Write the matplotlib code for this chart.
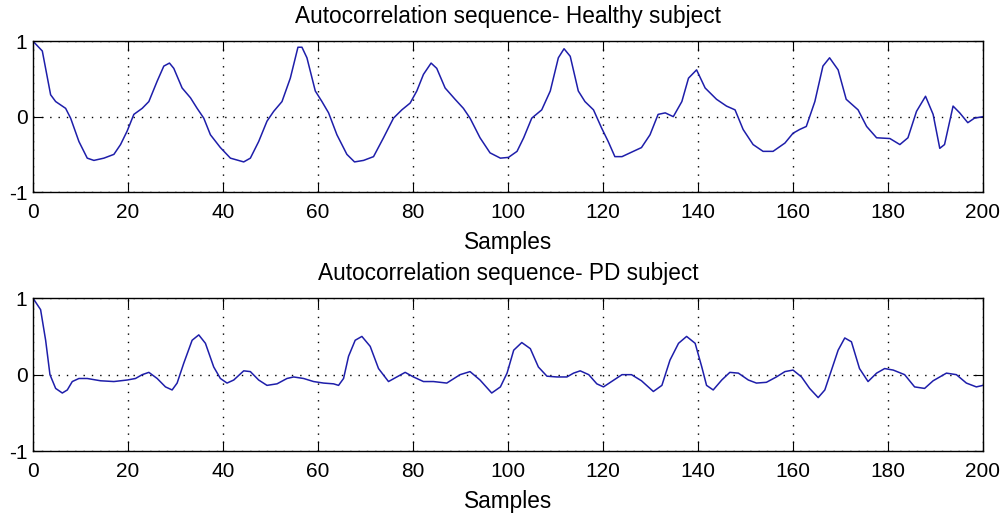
import matplotlib
matplotlib.use('Agg')
import matplotlib.pyplot as plt

# values (lag in samples, autocorrelation)
healthy_lag = [0, 1.96, 3.71, 4.77, 6.87, 7.92, 9.67, 11.42, 12.82, 14.93, 17.03, 18.43,
               19.83, 21.23, 22.99, 24.39, 26.14, 27.54, 28.73, 29.64, 31.39, 33.15, 34.55,
               35.95, 37.35, 39.45, 41.56, 44.36, 45.76, 47.51, 49.26, 50.67, 52.42, 54.17,
               55.78, 56.62, 57.67, 59.43, 60.83, 62.23, 63.98, 66.08, 67.69, 69.59, 71.69,
               73.79, 75.89, 77.65, 79.40, 80.80, 82.20, 83.81, 85.00, 86.76, 88.86, 90.61,
               92.01, 94.11, 96.22, 98.4, 100.1, 101.9, 103.3, 105.0, 107.1, 108.9, 110.6,
               111.8, 113.1, 114.8, 116.2, 118.0, 119.7, 121.1, 122.5, 124.0, 125.7, 128.1,
               129.9, 131.6, 133.1, 134.8, 136.6, 138.0, 139.7, 141.5, 143.9, 146.0, 147.8,
               149.5, 151.6, 153.7, 155.8, 158.3, 160.0, 161.4, 162.8, 164.6, 166.3, 167.7,
               169.5, 171.2, 173.7, 175.5, 177.6, 180.4, 182.5, 184.2, 186.0, 187.9, 189.5,
               190.9, 191.9, 193.7, 195.1, 196.8, 198.2, 200.0]
healthy_r = [1.0, 0.87, 0.29, 0.20, 0.11, -0.02, -0.33, -0.55, -0.58, -0.55, -0.50, -0.37,
             -0.19, 0.03, 0.11, 0.20, 0.47, 0.67, 0.71, 0.64, 0.38, 0.25, 0.11,
             -0.02, -0.24, -0.41, -0.55, -0.60, -0.55, -0.33, -0.06, 0.07, 0.20, 0.51,
             0.92, 0.92, 0.78, 0.34, 0.20, 0.05, -0.24, -0.50, -0.60, -0.58, -0.53,
             -0.28, -0.02, 0.09, 0.18, 0.34, 0.56, 0.71, 0.64, 0.38, 0.23, 0.11,
             -0.02, -0.28, -0.48, -0.55, -0.54, -0.46, -0.28, -0.02, 0.09, 0.34, 0.78,
             0.90, 0.80, 0.34, 0.20, 0.09, -0.15, -0.33, -0.53, -0.53, -0.48, -0.41,
             -0.24, 0.03, 0.05, 0.00, 0.20, 0.51, 0.62, 0.38, 0.23, 0.14, 0.09,
             -0.17, -0.37, -0.46, -0.46, -0.35, -0.22, -0.17, -0.13, 0.20, 0.67, 0.78,
             0.62, 0.23, 0.09, -0.13, -0.28, -0.29, -0.37, -0.28, 0.07, 0.27, 0.03,
             -0.42, -0.37, 0.14, 0.05, -0.08, -0.02, 0.00]

pd_lag = [0, 1.6, 2.66, 3.57, 4.77, 6.17, 7.22, 8.27, 9.67, 11.42, 14.23, 17.03, 19.83,
          21.58, 22.99, 24.39, 26.14, 27.89, 29.29, 30.34, 31.74, 33.50, 34.90, 36.30,
          38.05, 39.45, 40.85, 42.26, 44.36, 45.76, 47.51, 49.26, 51.37, 53.47, 54.87,
          56.97, 59.07, 61.18, 63.28, 64.33, 65.38, 66.43, 67.83, 69.24, 70.99, 72.74,
          74.84, 76.59, 78.35, 80.10, 82.20, 84.30, 87.11, 89.91, 92.01, 94.11, 96.57,
          98.4, 99.8, 101.2, 102.9, 104.7, 106.4, 108.2, 110.3, 112.4, 113.8, 115.2,
          117.0, 118.7, 120.1, 121.8, 124.0, 126.0, 128.1, 130.6, 132.4, 134.1, 135.9,
          137.6, 139.4, 140.8, 141.8, 143.2, 145.0, 146.7, 148.5, 150.6, 152.3, 154.4,
          156.5, 158.3, 160.0, 161.8, 163.5, 165.3, 166.7, 168.1, 169.5, 170.9, 172.3,
          174.0, 175.8, 177.6, 179.3, 181.1, 183.5, 185.6, 187.7, 189.5, 192.3, 194.4,
          196.5, 198.6, 200.0]
pd_r = [1.0, 0.85, 0.45, 0.00, -0.18, -0.24, -0.20, -0.09, -0.05, -0.05, -0.08, -0.09, -0.07,
        -0.05, 0.00, 0.03, -0.05, -0.16, -0.20, -0.11, 0.15, 0.45, 0.52, 0.41,
        0.10, -0.05, -0.11, -0.07, 0.05, 0.04, -0.07, -0.14, -0.12, -0.05, -0.03,
        -0.05, -0.09, -0.11, -0.12, -0.14, -0.05, 0.24, 0.45, 0.50, 0.37, 0.08,
        -0.09, -0.03, 0.03, -0.03, -0.09, -0.09, -0.11, 0.00, 0.04, -0.07, -0.24,
        -0.16, 0.02, 0.32, 0.42, 0.34, 0.10, -0.02, -0.03, -0.03, 0.02, 0.05,
        0.00, -0.12, -0.16, -0.09, 0.00, 0.00, -0.08, -0.22, -0.14, 0.19, 0.41,
        0.50, 0.41, 0.10, -0.14, -0.20, -0.07, 0.03, 0.02, -0.07, -0.11, -0.10,
        -0.03, 0.04, 0.06, -0.03, -0.18, -0.30, -0.20, 0.06, 0.32, 0.48, 0.43,
        0.08, -0.09, 0.02, 0.08, 0.06, 0.00, -0.16, -0.18, -0.08, 0.02, 0.00,
        -0.11, -0.16, -0.14]

titles = ['Autocorrelation sequence- Healthy subject', 'Autocorrelation sequence- PD subject']
xticks = list(range(0, 201, 20))
yticks = [-1, 0, 1]

plt.rcParams['font.family'] = ['Liberation Sans', 'DejaVu Sans']
plt.rcParams['axes.unicode_minus'] = False

fig = plt.figure(figsize=(10, 5.15), dpi=100)
ax1 = fig.add_axes([0.033, 0.627, 0.950, 0.293])
ax2 = fig.add_axes([0.033, 0.124, 0.950, 0.297])

for ax, lag, r, title in [(ax1, healthy_lag, healthy_r, titles[0]), (ax2, pd_lag, pd_r, titles[1])]:
    ax.plot(lag, r, color='#1e1eaa', lw=1.1)
    ax.set_xlim(0, 200)
    ax.set_ylim(-1, 1)
    ax.set_xticks(xticks)
    ax.set_yticks(yticks)
    ax.grid(True, color='black', linestyle=(0, (1, 5)), lw=1.0)
    ax.tick_params(direction='in', length=7, labelsize=15, color='black')
    ax.tick_params(axis='x', pad=8)
    ax.tick_params(axis='y', pad=4)
    ax.tick_params(top=True, right=True)
    for sp in ax.spines.values():
        sp.set_linewidth(1.0)
    ax.set_title(title, fontsize=16.3, pad=13)
    ax.set_xlabel('Samples', fontsize=16.3, labelpad=6)

fig.savefig('out.png', dpi=100)
